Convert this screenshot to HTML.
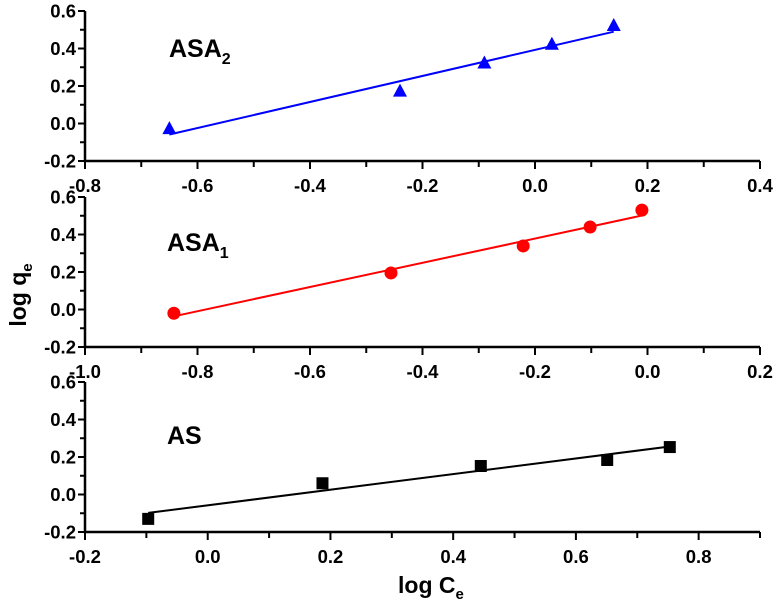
<!DOCTYPE html>
<html><head><meta charset="utf-8"><style>
body{margin:0;background:#fff;}
svg{display:block;font-family:"Liberation Sans",Arial,sans-serif;font-weight:bold;}
</style></head><body>
<svg id="c" width="777" height="607"></svg>
<script>
const asa2X=[-0.65,-0.24,-0.09,0.03,0.14];
const asa2Y=[-0.03,0.17,0.32,0.42,0.52];
const asa1X=[-0.842,-0.456,-0.221,-0.102,-0.01];
const asa1Y=[-0.02,0.195,0.339,0.44,0.53];
const asX=[-0.097,0.187,0.445,0.651,0.753];
const asY=[-0.13,0.06,0.152,0.184,0.253];
const yTicks=[-0.2,0.0,0.2,0.4,0.6];
const xTicksTop=[-0.8,-0.6,-0.4,-0.2,0.0,0.2,0.4];
const xTicksMid=[-1.0,-0.8,-0.6,-0.4,-0.2,0.0,0.2];
const xTicksBot=[-0.2,0.0,0.2,0.4,0.6,0.8];
const NS="http://www.w3.org/2000/svg";
const svg=document.getElementById('c');
function mk(t,a,p){const e=document.createElementNS(NS,t);for(const k in a)e.setAttribute(k,a[k]);(p||svg).appendChild(e);return e;}
const panels=[
 {name:'asa2',X:asa2X,Y:asa2Y,xt:xTicksTop,xmin:-0.8,xmax:0.4,bottom:161,color:'#0000ff',shape:'tri'},
 {name:'asa1',X:asa1X,Y:asa1Y,xt:xTicksMid,xmin:-1.0,xmax:0.2,bottom:347,color:'#ff0000',shape:'circ'},
 {name:'as',X:asX,Y:asY,xt:xTicksBot,xmin:-0.2,xmax:0.9,bottom:532,color:'#000000',shape:'sq'}
];
const L=85,R=760;
panels.forEach(p=>{
 const g=mk('g',{});
 
 
 const sx=v=>L+(v-p.xmin)/(p.xmax-p.xmin)*(R-L);
 const sy=v=>p.bottom-(v+0.2)/0.8*150;
 const ax=mk('path',{d:`M${L},${sy(0.6)}V${p.bottom}H${R}`,fill:'none',stroke:'#000','stroke-width':2.5},g);
 
 
 for(let v=-0.2;v<=0.6001;v+=0.1){const maj=Math.abs(Math.round(v*10)%2)===0;
  mk('line',{x1:L-(maj?7:5),x2:L,y1:sy(v),y2:sy(v),stroke:'#000','stroke-width':2},g);}
 yTicks.forEach(v=>{const t=mk('text',{x:L-9,y:sy(v)+6.5,'text-anchor':'end','font-size':18.5},g);t.textContent=v.toFixed(1);
  });
 for(let v=p.xmin;v<=p.xmax+1e-6;v+=0.1){const maj=Math.abs(Math.round(v*10))%2===0;
  mk('line',{x1:sx(v),x2:sx(v),y1:p.bottom,y2:p.bottom+(maj?8:6),stroke:'#000','stroke-width':2},g);}
 p.xt.forEach(v=>{const t=mk('text',{x:sx(v),y:p.bottom+31,'text-anchor':'middle','font-size':18.5},g);t.textContent=v.toFixed(1);
  });
 const n=p.X.length,mx=p.X.reduce((a,b)=>a+b)/n,my=p.Y.reduce((a,b)=>a+b)/n;
 let sxy=0,sxx=0;for(let i=0;i<n;i++){sxy+=(p.X[i]-mx)*(p.Y[i]-my);sxx+=(p.X[i]-mx)**2;}
 const b=sxy/sxx,a=my-b*mx;const x0=Math.min(...p.X),x1=Math.max(...p.X);
 const fl=mk('line',{x1:sx(x0),y1:sy(a+b*x0),x2:sx(x1),y2:sy(a+b*x1),stroke:p.color,'stroke-width':2},g);
 
 p.X.forEach((xv,i)=>{const cx=sx(xv),cy=sy(p.Y[i]);let m;
  if(p.shape==='tri')m=mk('polygon',{points:`${cx},${cy-8} ${cx-7},${cy+5} ${cx+7},${cy+5}`,fill:p.color},g);
  else if(p.shape==='circ')m=mk('circle',{cx,cy,r:6.5,fill:p.color},g);
  else m=mk('rect',{x:cx-6,y:cy-6,width:12,height:12,fill:p.color},g);
  });
});
</script>
<svg style="position:absolute;left:0;top:0" width="777" height="607" font-family="Liberation Sans, Arial, sans-serif" font-weight="bold">
<text x="169" y="57" font-size="25">ASA<tspan font-size="16" dy="7">2</tspan></text>
<text x="167" y="251" font-size="25">ASA<tspan font-size="16" dy="7">1</tspan></text>
<text x="167" y="444" font-size="25">AS</text>
<text transform="translate(26,295) rotate(-90)" text-anchor="middle" font-size="23">log q<tspan font-size="15" dy="6">e</tspan></text>
<text x="398" y="593" font-size="23">log C<tspan font-size="15" dy="6">e</tspan></text>
</svg>
</body></html>
